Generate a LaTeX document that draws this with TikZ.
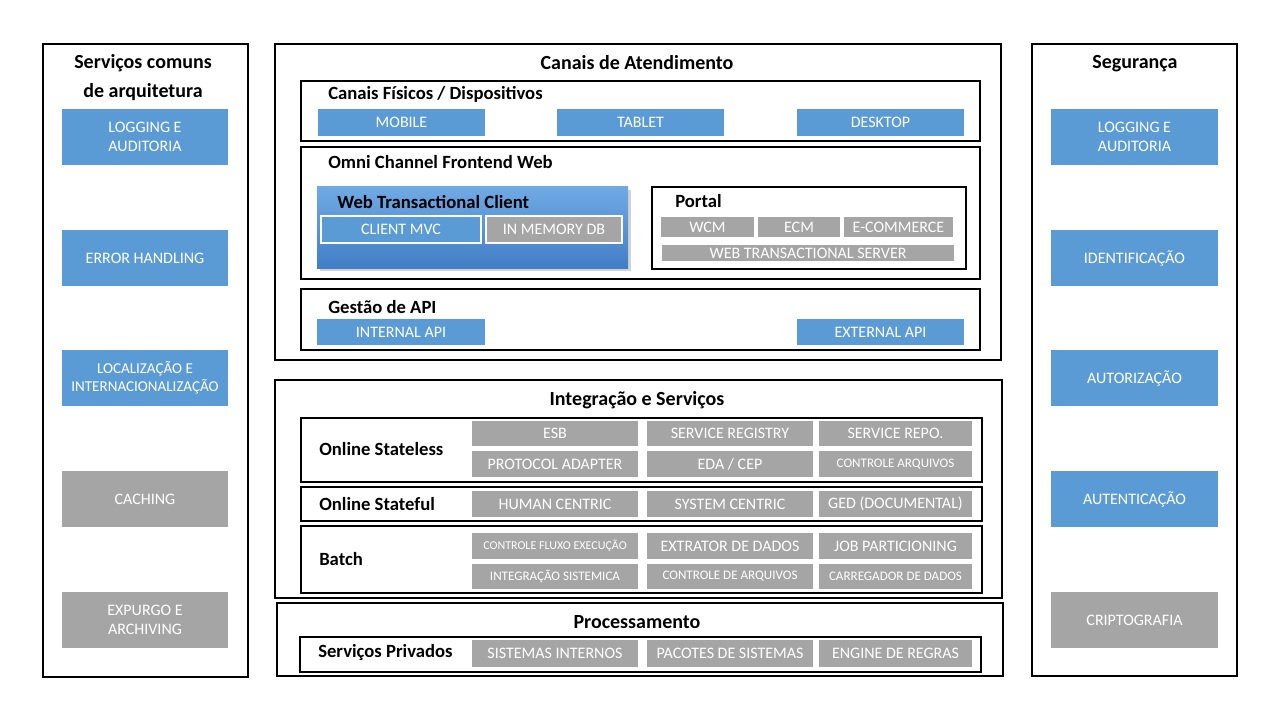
\documentclass[tikz,border=0pt]{standalone}
\usepackage{fontspec}
\setmainfont{Carlito}
\usetikzlibrary{shadows}
\definecolor{tileblue}{RGB}{91,155,213}
\definecolor{tilegray}{RGB}{165,165,165}
\definecolor{wtctop}{RGB}{112,170,228}
\definecolor{wtcbottom}{RGB}{66,126,198}

\begin{document}
\begin{tikzpicture}[x = 0.75pt, y = -0.75pt,
	spot/.style n args = {4}{minimum width = {(#3-#1)*0.75pt}, minimum height = {(#4-#2)*0.75pt},
		at = {({(#1+#3)/2},{(#2+#4)/2})}},
	frame/.style = {draw = black, line width = 0.8pt, inner sep = 0pt},
	tile/.style = {inner sep = 0pt, text = white, align = center, font = \fontsize{12}{14}\selectfont},
	bluetile/.style = {tile, fill = tileblue},
	graytile/.style = {tile, fill = tilegray},
	smalltile/.style = {graytile, font = \fontsize{9.8}{11}\selectfont},
	tinytile/.style = {graytile, font = \fontsize{9}{11}\selectfont},
	title/.style = {align = center, font = \bfseries\fontsize{15}{21.75}\selectfont},
	head/.style = {anchor = west, inner sep = 0pt, font = \bfseries\fontsize{14}{17}\selectfont}]
	\useasboundingbox (0,0) rectangle (1280,720);
	\fill[white] (0,0) rectangle (1280,720);

	% servicos comuns
	\node[frame, spot = {43}{44}{248}{677}] (leftcol) {};
	\node[title] (tLeft) at (143,77.5) {Serviços comuns\\de arquitetura};
	\foreach \y/\nm/\txt in {109/lLog/{LOGGING E\\AUDITORIA}, 230/lErr/{ERROR HANDLING}} {
		\node[bluetile, spot = {62}{\y}{228}{\y+56}] (\nm) {\txt};
	}
	\node[bluetile, font = \fontsize{11.3}{13.5}\selectfont, spot = {62}{350}{228}{406}] (lLoc)
		{LOCALIZAÇÃO E\\INTERNACIONALIZAÇÃO};
	\foreach \y/\nm/\txt in {471/lCach/{CACHING}, 592/lExp/{EXPURGO E\\ARCHIVING}} {
		\node[graytile, spot = {62}{\y}{228}{\y+56}] (\nm) {\txt};
	}

	% seguranca
	\node[frame, spot = {1032}{44}{1237}{676}] (rightcol) {};
	\node[title] (tRight) at (1135,64) {Segurança};
	\foreach \y/\nm/\sty/\txt in {109/rLog/bluetile/{LOGGING E\\AUDITORIA}, 230/rIdent/bluetile/{IDENTIFICAÇÃO},
		350/rAutz/bluetile/{AUTORIZAÇÃO}, 471/rAutn/bluetile/{AUTENTICAÇÃO},
		592/rCrip/graytile/{CRIPTOGRAFIA}} {
		\node[\sty, spot = {1051}{\y}{1218}{\y+56}] (\nm) {\txt};
	}

	% canais de atendimento
	\node[frame, spot = {275}{44}{1001}{360}] (canais) {};
	\node[title] (tCanais) at (637,63) {Canais de Atendimento};

	\node[frame, spot = {301}{81}{980}{141}] (fisicos) {};
	\node[head] (hFisicos) at (328,94) {Canais Físicos / Dispositivos};
	\foreach \xa/\nm/\txt in {318/mobile/MOBILE, 557/tablet/TABLET, 797/desktop/DESKTOP} {
		\node[bluetile, spot = {\xa}{109}{\xa+167}{136}] (\nm) {\txt};
	}

	\node[frame, spot = {301}{147}{980}{279}] (omni) {};
	\node[head] (hOmni) at (328,162) {Omni Channel Frontend Web};

	\node[inner sep = 0pt, top color = wtctop, bottom color = wtcbottom,
		drop shadow = {shadow xshift = 2pt, shadow yshift = -2pt, opacity = 0.35},
		spot = {317}{187}{628}{268}] (wtc) {};
	\node[head] (hWtc) at (337,202) {Web Transactional Client};
	\node[bluetile, draw = white, line width = 1.5pt, spot = {321}{216}{481}{243}] (mvc) {CLIENT MVC};
	\node[graytile, draw = white, line width = 1.5pt, spot = {486}{216}{622}{243}] (memdb) {IN MEMORY DB};

	\node[frame, spot = {652}{187}{966}{269}] (portal) {};
	\node[head] (hPortal) at (675,201) {Portal};
	\foreach \xa/\xb/\nm/\txt in {661/754/wcm/WCM, 758/840/ecm/ECM, 844/953/ecom/E-COMMERCE} {
		\node[graytile, spot = {\xa}{217}{\xb}{237}] (\nm) {\txt};
	}
	\node[graytile, spot = {662}{245}{954}{261}] (wts) {WEB TRANSACTIONAL SERVER};

	\node[frame, spot = {301}{289}{980}{350}] (gestao) {};
	\node[head] (hGestao) at (328,307) {Gestão de API};
	\node[bluetile, spot = {317}{319}{485}{345}] (intapi) {INTERNAL API};
	\node[bluetile, spot = {797}{319}{964}{345}] (extapi) {EXTERNAL API};

	% integracao e servicos
	\node[frame, spot = {275}{380}{1002}{598}] (integ) {};
	\node[title] (tInteg) at (637,400) {Integração e Serviços};

	\node[frame, spot = {301}{418}{982}{482}] (stateless) {};
	\node[head] (hStateless) at (319,449) {Online Stateless};
	\node[frame, spot = {301}{487}{982}{521}] (stateful) {};
	\node[head] (hStateful) at (319,504) {Online Stateful};
	\node[frame, spot = {301}{526}{982}{593}] (batch) {};
	\node[head] (hBatch) at (319,559) {Batch};

	\foreach \xa/\xb/\ya/\yb/\nm/\sty/\txt in {
		472/638/421/446/esb/graytile/ESB, 647/813/421/446/sreg/graytile/{SERVICE REGISTRY},
		819/972/421/446/srepo/graytile/{SERVICE REPO.},
		472/638/451/477/padapt/graytile/{PROTOCOL ADAPTER}, 647/813/451/477/eda/graytile/{EDA / CEP},
		819/972/451/477/ctrlarq/smalltile/{CONTROLE ARQUIVOS},
		472/638/491/517/human/graytile/{HUMAN CENTRIC}, 647/813/491/517/system/graytile/{SYSTEM CENTRIC},
		819/972/491/517/ged/graytile/{GED (DOCUMENTAL)},
		472/638/533/559/fluxo/tinytile/{CONTROLE FLUXO EXECUÇÃO}, 647/813/533/559/extrator/graytile/{EXTRATOR DE DADOS},
		819/972/533/559/jobpart/graytile/{JOB PARTICIONING},
		472/638/564/589/integsis/smalltile/{INTEGRAÇÃO SISTEMICA}, 647/813/564/589/ctrldearq/smalltile/{CONTROLE DE ARQUIVOS},
		819/972/564/589/carreg/smalltile/{CARREGADOR DE DADOS}} {
		\node[\sty, spot = {\xa}{\ya}{\xb}{\yb}] (\nm) {\txt};
	}

	% processamento
	\node[frame, spot = {277}{603}{1003}{676}] (proc) {};
	\node[title] (tProc) at (637,622) {Processamento};
	\node[frame, spot = {300}{637}{981}{672}] (privados) {};
	\node[head] (hPrivados) at (318,653) {Serviços Privados};
	\foreach \xa/\xb/\nm/\txt in {472/638/sisint/{SISTEMAS INTERNOS}, 647/813/pacotes/{PACOTES DE SISTEMAS},
		819/972/engine/{ENGINE DE REGRAS}} {
		\node[graytile, spot = {\xa}{640}{\xb}{667}] (\nm) {\txt};
	}
\end{tikzpicture}
\end{document}
